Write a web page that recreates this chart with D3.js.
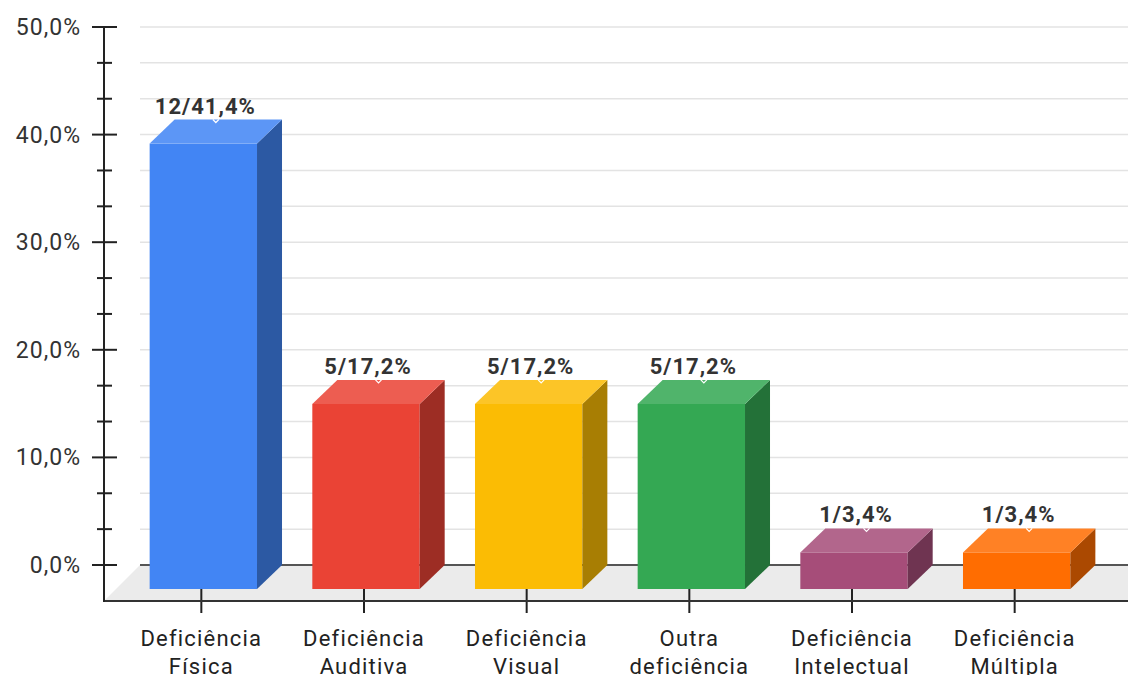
<!DOCTYPE html>
<html>
<head>
<meta charset="utf-8">
<script src="https://cdn.jsdelivr.net/npm/d3@7"></script>
<style>
  body { margin: 0; background: #fff; }
  svg { display: block; font-family: Roboto, "Noto Sans", sans-serif; }
</style>
</head>
<body>
<svg width="1128" height="675"></svg>
<script>
// data
var categories = ["Deficiência Física", "Deficiência Auditiva", "Deficiência Visual",
                  "Outra deficiência", "Deficiência Intelectual", "Deficiência Múltipla"];
var counts = [12, 5, 5, 5, 1, 1];
var percents = [41.4, 17.2, 17.2, 17.2, 3.4, 3.4];
var colors = ["#4285F4", "#EA4335", "#FBBC04", "#34A853", "#A64D79", "#FF6D01"];
var yTicks = [0, 10, 20, 30, 40, 50];

var width = 1128, height = 675;
var svg = d3.select("svg");

// back plane geometry
var backLeft = 140, right = 1128;
var depthX = 37, depthY = 36;      // floor depth
var barDX = 25, barDY = 24;        // bar depth

var y = d3.scaleLinear().domain([0, 50]).range([565, 27]);
var x = d3.scaleBand().domain(categories).range([147, 1123])
  .paddingInner(0.34).paddingOuter(0.17);

var locale = d3.formatLocale({decimal: ",", thousands: ".", grouping: [3], currency: ["", ""]});
var fmt = locale.format(".1f");

var floorY = y(0) + depthY;
var axisX = backLeft - depthX + 1;

// minor ticks every third of a major step
var minor = d3.range(0, 50.001, 10 / 3);
function isMajor(d) { return Math.abs(d - Math.round(d)) < 1e-6; }

// floor
svg.append("polygon")
  .attr("points", [[axisX, floorY], [backLeft, y(0)], [right + 20, y(0)], [right + 20, floorY]].join(" "))
  .attr("fill", "#ebebeb");

// gridlines
svg.append("g").selectAll("line").data(minor).enter().append("line")
  .attr("x1", backLeft).attr("x2", right)
  .attr("y1", function(d) { return y(d); }).attr("y2", function(d) { return y(d); })
  .attr("stroke", "#e3e3e3").attr("stroke-width", 1.5);

// baseline at back
svg.append("line")
  .attr("x1", backLeft).attr("x2", right).attr("y1", y(0)).attr("y2", y(0))
  .attr("stroke", "#555").attr("stroke-width", 2);

// bars
var bars = svg.append("g").selectAll("g").data(categories).enter().append("g");
bars.each(function(d, i) {
  var g = d3.select(this);
  var c = colors[i];
  var side = d3.interpolateRgb(c, "#000")(0.33);
  var top = d3.interpolateRgb(c, "#fff")(0.14);
  var bx0 = x(d), bx1 = x(d) + x.bandwidth();   // back face
  var fx0 = bx0 - barDX, fx1 = bx1 - barDX;     // front face
  var yt = y(percents[i]), yb = y(0);
  g.append("rect")
    .attr("x", fx0).attr("y", yt + barDY)
    .attr("width", fx1 - fx0).attr("height", yb - yt)
    .attr("fill", c);
  g.append("polygon")
    .attr("points", [[fx1, yt + barDY], [bx1, yt], [bx1, yb], [fx1, yb + barDY]].join(" "))
    .attr("fill", side);
  g.append("polygon")
    .attr("points", [[fx0, yt + barDY], [bx0, yt], [bx1, yt], [fx1, yt + barDY]].join(" "))
    .attr("fill", top);
  // small label stem notch
  var nx = (fx0 + bx1) / 2;
  g.append("path")
    .attr("d", "M" + (nx - 3) + "," + (yt) + " L" + nx + "," + (yt + 3) + " L" + (nx + 3) + "," + yt)
    .attr("fill", "none").attr("stroke", "#fff").attr("stroke-width", 1.2);
  g.append("text")
    .attr("x", (fx0 + fx1) / 2 + 2).attr("y", yt - 6)
    .attr("text-anchor", "middle")
    .attr("font-size", 22).attr("font-weight", "bold")
    .attr("letter-spacing", 1)
    .attr("fill", "#333")
    .text(counts[i] + "/" + fmt(percents[i]) + "%");
  // x tick
  var cx = (fx0 + fx1) / 2 - 2;
  g.append("line")
    .attr("x1", cx).attr("x2", cx).attr("y1", yb + barDY).attr("y2", floorY + 12)
    .attr("stroke", "#222").attr("stroke-width", 2);
  var words = d.split(" ");
  var t = g.append("text")
    .attr("text-anchor", "middle")
    .attr("font-size", 22).attr("letter-spacing", 1.2)
    .attr("fill", "#222");
  words.forEach(function(w, k) {
    t.append("tspan").attr("x", cx).attr("y", 646 + k * 28).text(w);
  });
});

// bottom axis
svg.append("line")
  .attr("x1", axisX).attr("x2", right).attr("y1", floorY).attr("y2", floorY)
  .attr("stroke", "#333").attr("stroke-width", 2);

// y axis
svg.append("line")
  .attr("x1", axisX).attr("x2", axisX).attr("y1", y(50)).attr("y2", floorY + 1)
  .attr("stroke", "#222").attr("stroke-width", 2);
svg.append("g").selectAll("line").data(minor).enter().append("line")
  .attr("x1", function(d) { return isMajor(d) ? axisX - 12 : axisX - 7; })
  .attr("x2", function(d) { return isMajor(d) ? axisX + 13 : axisX + 8; })
  .attr("y1", function(d) { return y(d); }).attr("y2", function(d) { return y(d); })
  .attr("stroke", "#222").attr("stroke-width", 2);
svg.append("g").selectAll("text").data(yTicks).enter().append("text")
  .attr("x", 81).attr("y", function(d) { return y(d); })
  .attr("dy", "0.35em")
  .attr("text-anchor", "end")
  .attr("font-size", 23).attr("letter-spacing", 1)
  .attr("fill", "#333")
  .text(function(d) { return fmt(d) + "%"; });
</script>
</body>
</html>
